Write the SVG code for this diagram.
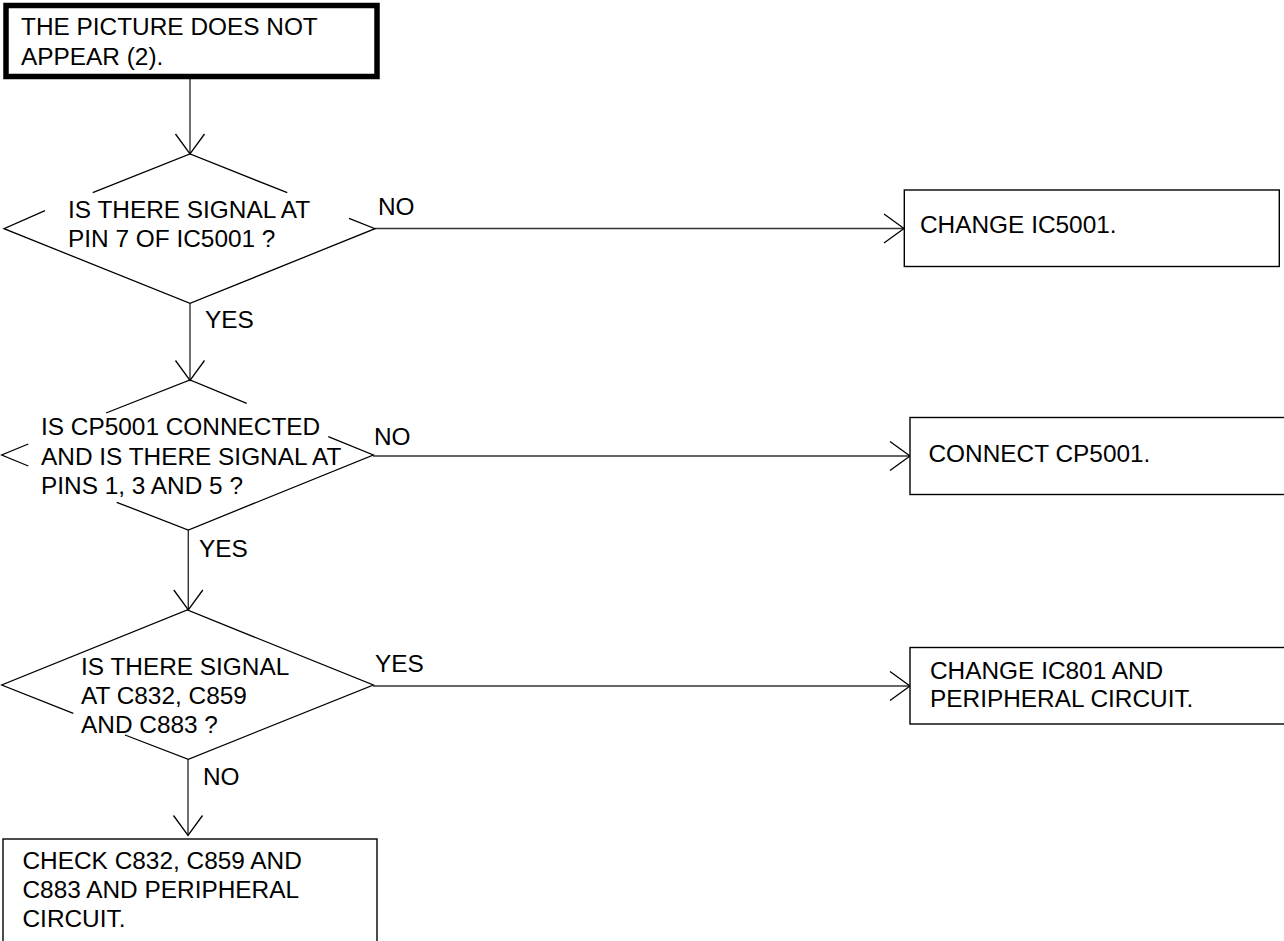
<svg xmlns="http://www.w3.org/2000/svg" width="1284" height="941" viewBox="0 0 1284 941">
<style>
text{font-family:"Liberation Sans",Arial,sans-serif;font-size:24.4px;fill:#000}
.box{fill:#fff;stroke:#000;stroke-width:1.4}
.start{fill:#fff;stroke:#000;stroke-width:5.5}
.edge{fill:none;stroke:#000;stroke-width:1.3}
.conn{fill:none;stroke:#333;stroke-width:1.4}
</style>
<defs>
<marker id="arr" markerUnits="userSpaceOnUse" markerWidth="24" markerHeight="34" viewBox="-22 -17 24 34" refX="0" refY="0" orient="auto">
<path d="M-20,-14.5 L0,0 L-20,14.5" fill="none" stroke="#000" stroke-width="1.3"/>
</marker>
</defs>
<rect width="1284" height="941" fill="#fff"/>
<g id="connectors">
<line class="conn" x1="190" y1="79" x2="190" y2="154" marker-end="url(#arr)"/>
<line class="conn" x1="190" y1="303.3" x2="190" y2="380.5" marker-end="url(#arr)"/>
<line class="conn" x1="188.3" y1="530" x2="188.3" y2="610" marker-end="url(#arr)"/>
<line class="conn" x1="188" y1="759.3" x2="188" y2="835.5" marker-end="url(#arr)"/>
<line class="conn" x1="375" y1="228.5" x2="904" y2="228.5" marker-end="url(#arr)"/>
<line class="conn" x1="373" y1="456" x2="910" y2="456" marker-end="url(#arr)"/>
<line class="conn" x1="373" y1="686" x2="910" y2="686" marker-end="url(#arr)"/>
<text x="378" y="215">NO</text>
<text x="205" y="328">YES</text>
<text x="374" y="445">NO</text>
<text x="199" y="557">YES</text>
<text x="375" y="671.5">YES</text>
<text x="203" y="785">NO</text>
</g>
<g id="start">
<rect class="start" x="6" y="5.5" width="371" height="71"/>
<text x="21" y="35">THE PICTURE DOES NOT</text>
<text x="21" y="65">APPEAR (2).</text>
</g>
<g id="decision1">
<path class="edge" d="M45,210.7 L4,228.7 L190,303.3 L375,228.7 L349,218.3 M92.7,192.7 L190,154 L287.3,192.7"/>
<text x="68" y="218">IS THERE SIGNAL AT</text>
<text x="68" y="247">PIN 7 OF IC5001 ?</text>
</g>
<g id="change-ic5001">
<rect class="box" x="904.3" y="190" width="375" height="76.5"/>
<text x="920" y="233">CHANGE IC5001.</text>
</g>
<g id="decision2">
<path class="edge" d="M106,413 L190,380 L246.7,403.3 M328.3,436.7 L373.3,455 L188.3,530 L116.7,502.3 M28.3,444 L1.7,455 L28.3,466"/>
<text x="41" y="435">IS CP5001 CONNECTED</text>
<text x="41" y="464.5">AND IS THERE SIGNAL AT</text>
<text x="41" y="493.5">PINS 1, 3 AND 5 ?</text>
</g>
<g id="connect-cp5001">
<rect class="box" x="910" y="417.5" width="400" height="77"/>
<text x="928.5" y="462">CONNECT CP5001.</text>
</g>
<g id="decision3">
<path class="edge" d="M73.3,713.3 L1.7,685 L187.3,610 L373.3,685 L188.3,759.3 L125,735"/>
<text x="81" y="675">IS THERE SIGNAL</text>
<text x="81" y="704">AT C832, C859</text>
<text x="81" y="733">AND C883 ?</text>
</g>
<g id="change-ic801">
<rect class="box" x="910" y="647.5" width="400" height="76.5"/>
<text x="930" y="678.5">CHANGE IC801 AND</text>
<text x="930" y="707">PERIPHERAL CIRCUIT.</text>
</g>
<g id="check-caps">
<rect class="box" x="3" y="839" width="374" height="130"/>
<text x="22.5" y="869">CHECK C832, C859 AND</text>
<text x="22.5" y="898">C883 AND PERIPHERAL</text>
<text x="22.5" y="927">CIRCUIT.</text>
</g>
</svg>
